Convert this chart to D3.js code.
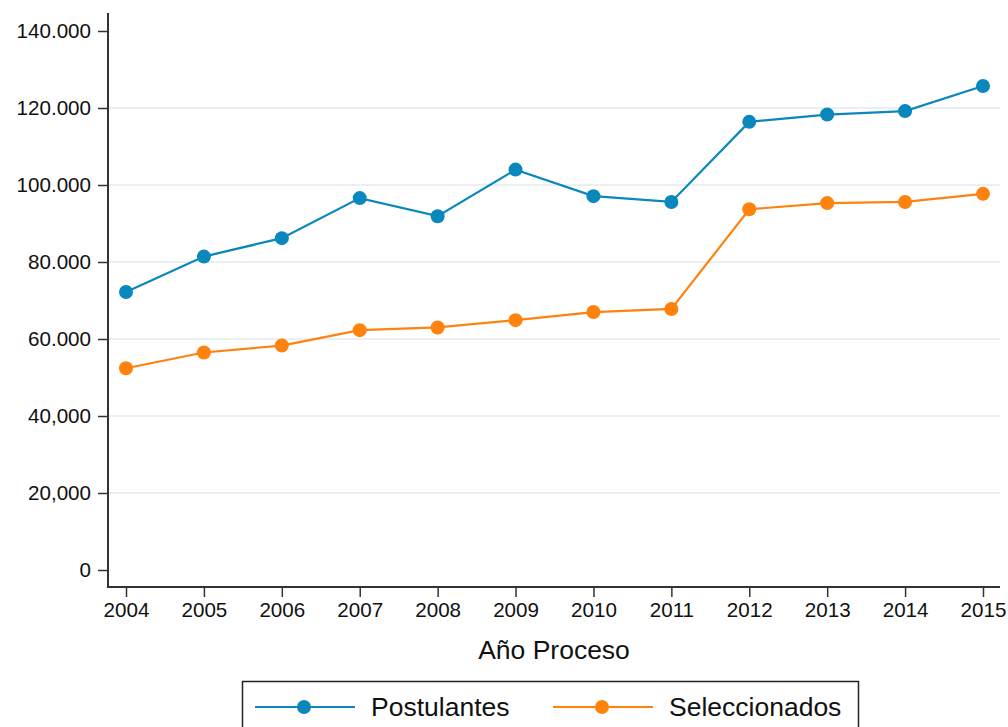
<!DOCTYPE html>
<html>
<head>
<meta charset="utf-8">
<script src="https://cdn.jsdelivr.net/npm/d3@7"></script>
<style>
  html, body { margin: 0; padding: 0; background: #fff; }
  svg { display: block; font-family: "Liberation Sans", Arial, Helvetica, sans-serif; }
</style>
</head>
<body>
<svg id="chart" width="1008" height="727"></svg>
<script>
const years = [2004, 2005, 2006, 2007, 2008, 2009, 2010, 2011, 2012, 2013, 2014, 2015];
const postulantes = [72200, 81400, 86200, 96600, 91900, 104000, 97100, 95600, 116400, 118300, 119200, 125700];
const seleccionados = [52400, 56500, 58300, 62300, 63000, 64900, 67000, 67800, 93700, 95300, 95600, 97700];
const yTickValues = [0, 20000, 40000, 60000, 80000, 100000, 120000, 140000];
const yTickLabels = ["0", "20,000", "40,000", "60.000", "80.000", "100.000", "120.000", "140.000"];
const seriesNames = ["Postulantes", "Seleccionados"];
const seriesColors = ["#0a87bd", "#ff820e"];

const svg = d3.select("#chart");
const axisLeftX = 108, axisBottomY = 587, plotTop = 13, plotRight = 1000;

const x = d3.scaleLinear().domain([2004, 2015]).range([126, 983]);
const y = d3.scaleLinear().domain([0, 140000]).range([570, 31]);

// gridlines (excluding 0 and 140000)
svg.append("g").selectAll("line")
  .data(yTickValues.filter(v => v > 0 && v < 140000))
  .join("line")
  .attr("x1", axisLeftX).attr("x2", plotRight)
  .attr("y1", d => y(d)).attr("y2", d => y(d))
  .attr("stroke", "#eaf0f2").attr("stroke-width", 2);

// Y axis
const yAxis = d3.axisLeft(y).tickValues(yTickValues)
  .tickFormat((d, i) => yTickLabels[i]).tickSize(10).tickPadding(7);
const gy = svg.append("g").attr("transform", `translate(${axisLeftX},0)`).call(yAxis);
gy.select(".domain").remove();
gy.selectAll(".tick line").attr("stroke", "#333").attr("stroke-width", 1.5);
gy.selectAll(".tick text").attr("font-size", 20.6).attr("fill", "#111");
svg.append("line").attr("x1", axisLeftX).attr("x2", axisLeftX)
  .attr("y1", plotTop).attr("y2", axisBottomY)
  .attr("stroke", "#333").attr("stroke-width", 2);

// X axis
const xAxis = d3.axisBottom(x).tickValues(years).tickFormat(d3.format("d"))
  .tickSize(10).tickPadding(5);
const gx = svg.append("g").attr("transform", `translate(0,${axisBottomY})`).call(xAxis);
gx.select(".domain").remove();
gx.selectAll(".tick line").attr("stroke", "#333").attr("stroke-width", 1.5);
gx.selectAll(".tick text").attr("font-size", 20.6).attr("fill", "#111");
svg.append("line").attr("x1", axisLeftX - 1).attr("x2", plotRight)
  .attr("y1", axisBottomY).attr("y2", axisBottomY)
  .attr("stroke", "#333").attr("stroke-width", 2);

// axis title
svg.append("text").attr("x", (axisLeftX + plotRight) / 2).attr("y", 659)
  .attr("text-anchor", "middle").attr("font-size", 26.5).attr("fill", "#111")
  .text("Año Proceso");

// series
const allSeries = [postulantes, seleccionados];
const line = d3.line().x((d, i) => x(years[i])).y(d => y(d));
allSeries.forEach((vals, si) => {
  svg.append("path").datum(vals)
    .attr("d", line).attr("fill", "none")
    .attr("stroke", seriesColors[si]).attr("stroke-width", 2.2);
  svg.append("g").selectAll("circle").data(vals).join("circle")
    .attr("cx", (d, i) => x(years[i])).attr("cy", d => y(d))
    .attr("r", 7).attr("fill", seriesColors[si]);
});

// legend
const legend = svg.append("g");
legend.append("rect").attr("x", 242.5).attr("y", 681.5).attr("width", 616).attr("height", 60)
  .attr("fill", "#fff").attr("stroke", "#222").attr("stroke-width", 1.5);
const legendItems = [{x0: 255}, {x0: 553}];
legendItems.forEach((it, i) => {
  const ly = 707;
  legend.append("line").attr("x1", it.x0).attr("x2", it.x0 + 100)
    .attr("y1", ly).attr("y2", ly)
    .attr("stroke", seriesColors[i]).attr("stroke-width", 2.2);
  legend.append("circle").attr("cx", it.x0 + 49).attr("cy", ly).attr("r", 7)
    .attr("fill", seriesColors[i]);
  legend.append("text").attr("x", it.x0 + 116).attr("y", ly + 9)
    .attr("font-size", 26.5).attr("fill", "#111").text(seriesNames[i]);
});
</script>
</body>
</html>
